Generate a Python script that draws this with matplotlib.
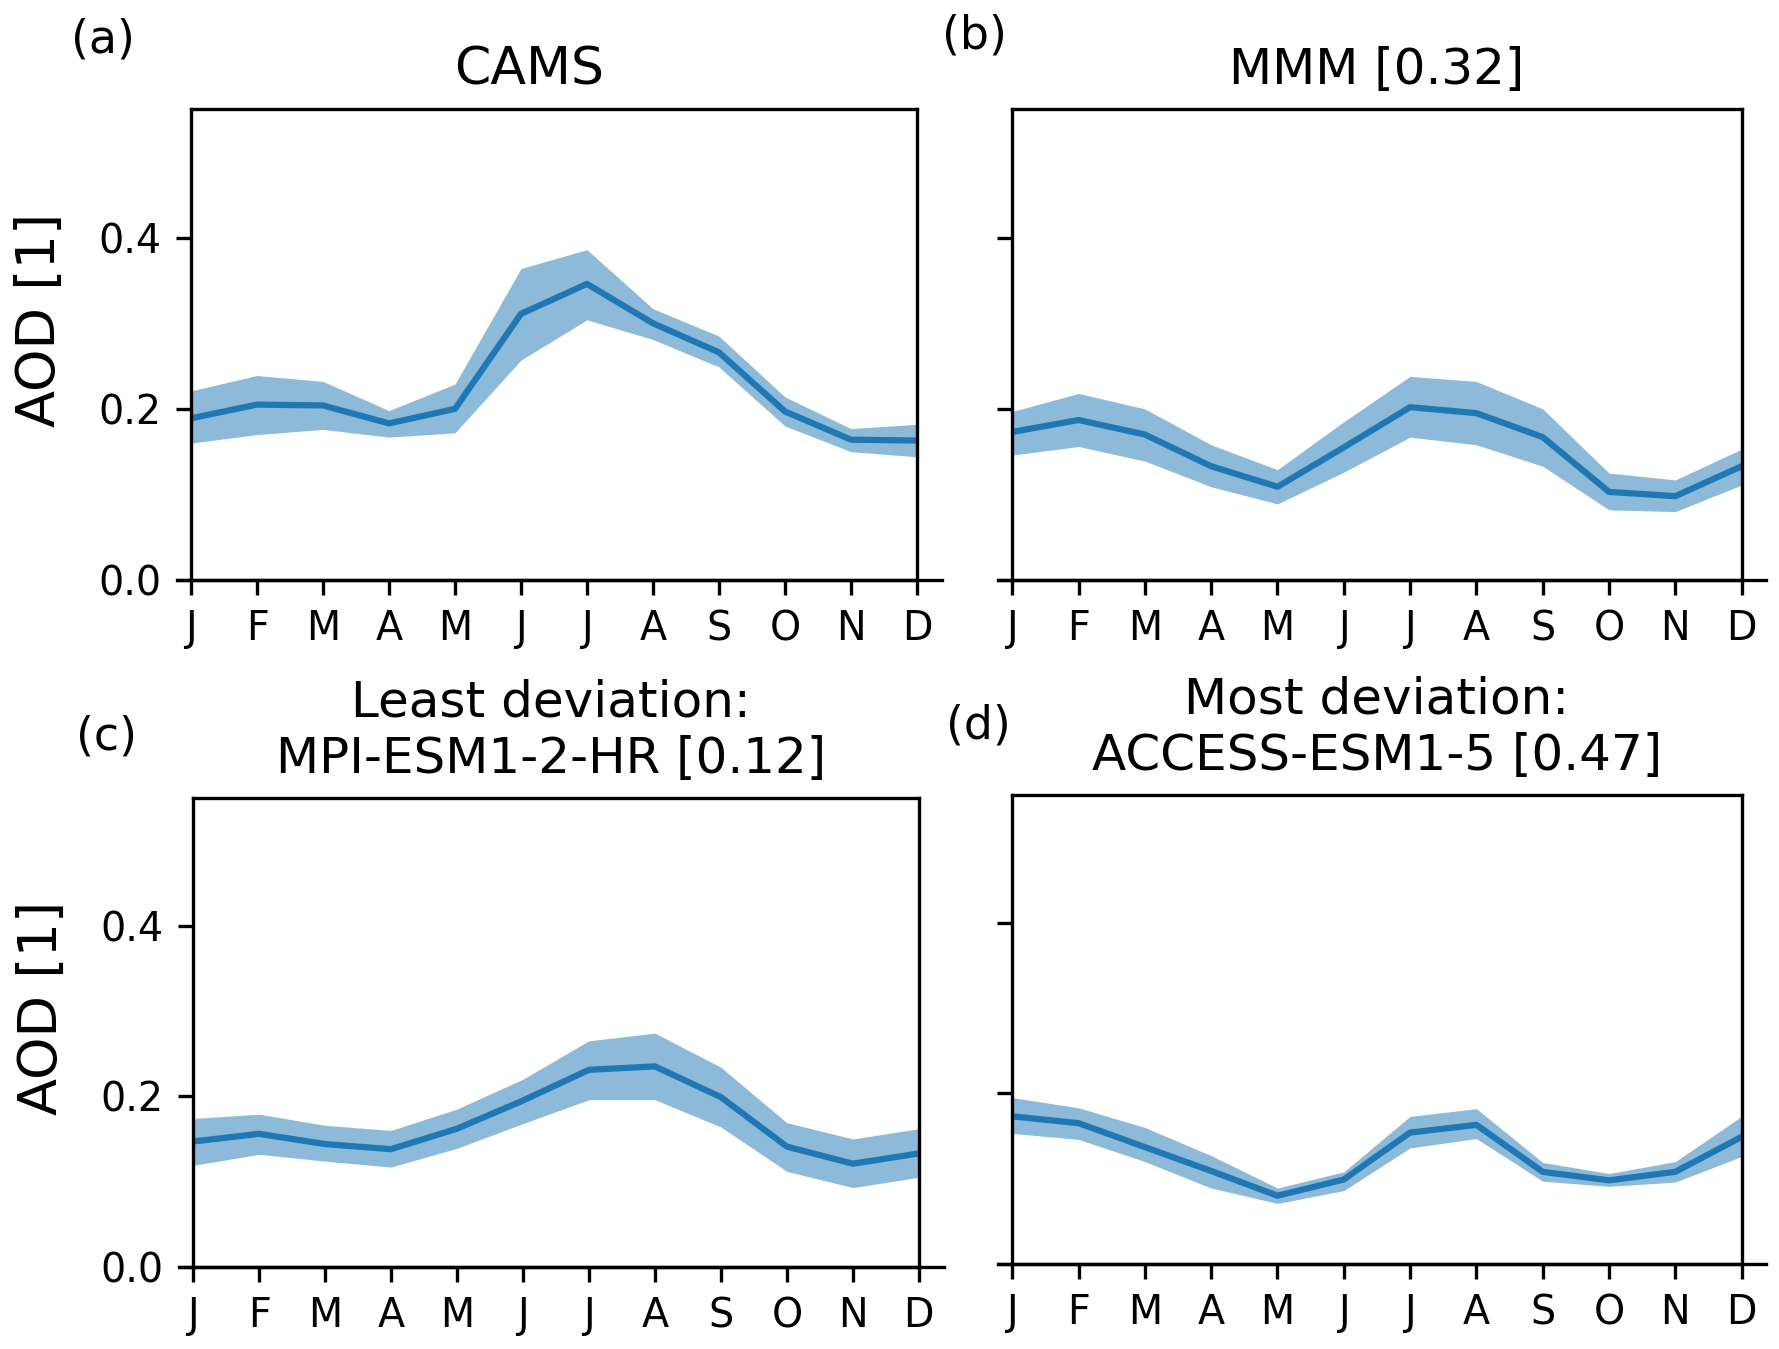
import matplotlib
matplotlib.use("Agg")
import matplotlib.pyplot as plt
import numpy as np

months = ["J", "F", "M", "A", "M", "J", "J", "A", "S", "O", "N", "D"]
panel_labels = ["(a)", "(b)", "(c)", "(d)"]
titles = ["CAMS", "MMM [0.32]", "Least deviation:\nMPI-ESM1-2-HR [0.12]",
          "Most deviation:\nACCESS-ESM1-5 [0.47]"]

cams_mean = [0.189, 0.205, 0.204, 0.183, 0.200, 0.311, 0.346, 0.300, 0.266, 0.197, 0.164, 0.163]
cams_upper = [0.221, 0.239, 0.232, 0.198, 0.229, 0.364, 0.386, 0.317, 0.285, 0.214, 0.177, 0.182]
cams_lower = [0.160, 0.170, 0.176, 0.167, 0.172, 0.257, 0.304, 0.281, 0.249, 0.180, 0.150, 0.144]

mmm_mean = [0.173, 0.187, 0.170, 0.133, 0.109, 0.155, 0.202, 0.195, 0.167, 0.103, 0.098, 0.133]
mmm_upper = [0.197, 0.218, 0.200, 0.158, 0.129, 0.185, 0.238, 0.232, 0.200, 0.125, 0.117, 0.153]
mmm_lower = [0.146, 0.156, 0.139, 0.109, 0.089, 0.126, 0.167, 0.158, 0.133, 0.082, 0.080, 0.111]

mpi_mean = [0.147, 0.156, 0.144, 0.138, 0.162, 0.195, 0.231, 0.235, 0.199, 0.141, 0.121, 0.133]
mpi_upper = [0.174, 0.179, 0.166, 0.160, 0.185, 0.220, 0.265, 0.274, 0.234, 0.169, 0.150, 0.162]
mpi_lower = [0.119, 0.132, 0.124, 0.117, 0.139, 0.168, 0.196, 0.196, 0.164, 0.112, 0.093, 0.105]

access_mean = [0.173, 0.165, 0.137, 0.109, 0.080, 0.099, 0.154, 0.163, 0.108, 0.098, 0.108, 0.149]
access_upper = [0.195, 0.183, 0.160, 0.127, 0.089, 0.108, 0.173, 0.182, 0.119, 0.106, 0.120, 0.173]
access_lower = [0.153, 0.146, 0.120, 0.089, 0.071, 0.086, 0.136, 0.147, 0.097, 0.091, 0.096, 0.126]

means = [cams_mean, mmm_mean, mpi_mean, access_mean]
uppers = [cams_upper, mmm_upper, mpi_upper, access_upper]
lowers = [cams_lower, mmm_lower, mpi_lower, access_lower]

fig = plt.figure(figsize=(1779 / 300, 1349 / 300), dpi=300)
rects = [
    [0.1074, 0.570, 0.408, 0.349],
    [0.569, 0.570, 0.410, 0.349],
    [0.1085, 0.0608, 0.408, 0.348],
    [0.569, 0.063, 0.410, 0.348],
]
label_pos = [(0.058, 0.970), (0.548, 0.973), (0.0596, 0.4537), (0.550, 0.462)]
title_x = [0.4656, 0.5, 0.493, 0.5]
title_size = [12.5, 12, 12, 12]
ylabel_y = [0.553, 0.551]

x = np.arange(12)
color = "#1f77b4"
for i in range(4):
    ax = fig.add_axes(rects[i])
    ax.fill_between(x, lowers[i], uppers[i], color=color, alpha=0.5, lw=0)
    ax.plot(x, means[i], color=color, lw=1.5)
    ax.set_xlim(0, 11)
    ax.set_ylim(0, 0.55)
    ax.set_xticks(x)
    ax.set_xticklabels(months, fontsize=9.5)
    ax.set_yticks([0.0, 0.2, 0.4])
    if i in (0, 2):
        ax.set_yticklabels(["0.0", "0.2", "0.4"], fontsize=9.5)
        ax.set_ylabel("AOD [1]", fontsize=13)
        ax.yaxis.set_label_coords(-0.172, ylabel_y[i // 2])
    else:
        ax.set_yticklabels([])
    ax.axhline(0, xmin=-0.02, xmax=1.034, color="k", lw=0.8, clip_on=False)
    ax.set_title(titles[i], fontsize=title_size[i], pad=6, x=title_x[i])
    fig.text(label_pos[i][0], label_pos[i][1], panel_labels[i], fontsize=11,
             ha="center", va="center")

fig.savefig("out.png", dpi=300)
